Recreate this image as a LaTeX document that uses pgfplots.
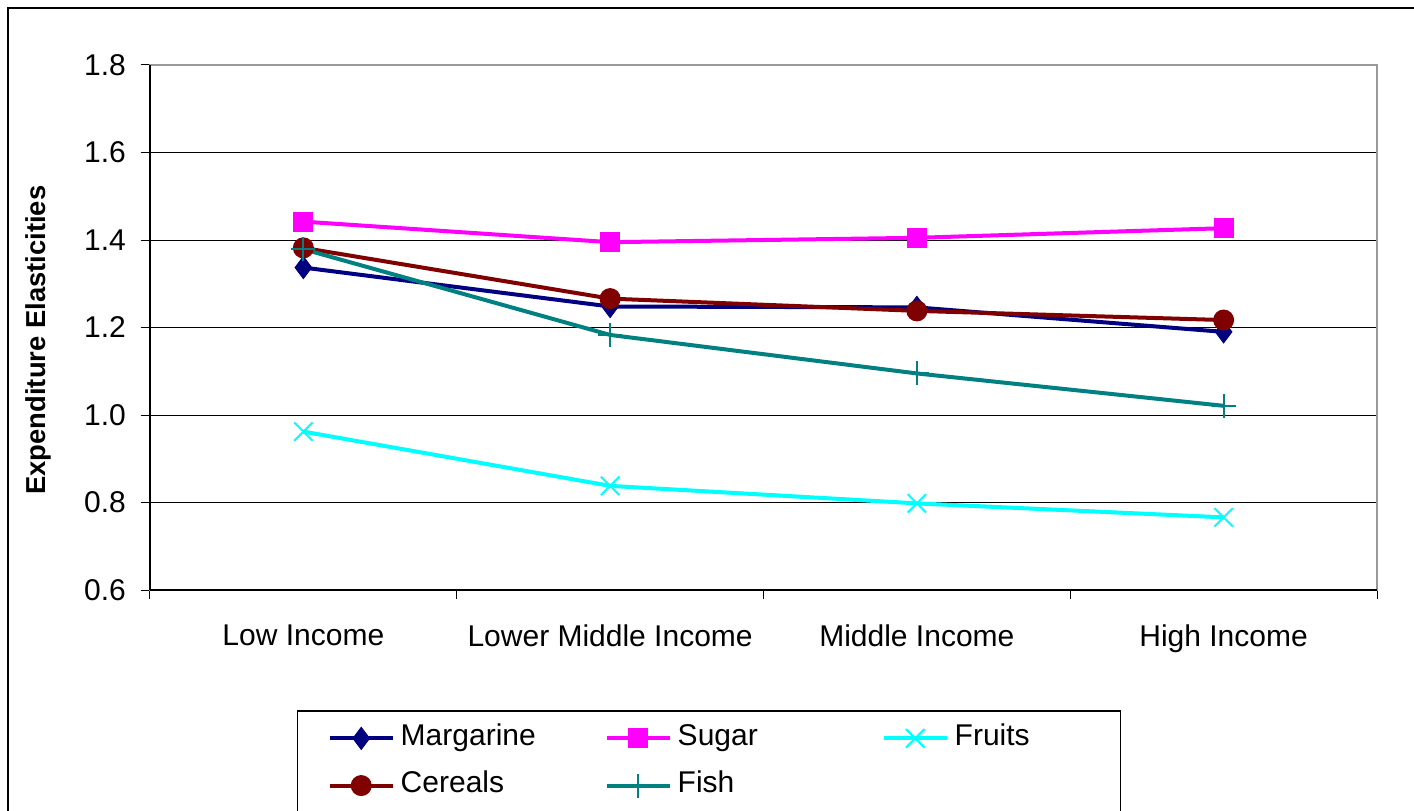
\documentclass[border=0pt]{standalone}
\usepackage{pgfplots}
\pgfplotsset{compat=1.18}
\usepackage{fontspec}
\setmainfont{Liberation Sans}
\definecolor{cMarg}{RGB}{0,0,128}
\definecolor{cSugar}{RGB}{255,0,255}
\definecolor{cFruit}{RGB}{0,255,255}
\definecolor{cCereal}{RGB}{128,0,0}
\definecolor{cFish}{RGB}{0,128,128}
\newcommand\lw[2]{\makebox[#1][l]{#2}}
\begin{document}
\begin{tikzpicture}
\useasboundingbox (0,0) rectangle (707pt,405pt);
\draw[black, line width=1pt] (3.75pt,-10pt) rectangle (720pt,401pt);
\begin{axis}[
  at={(75pt,110pt)}, anchor=south west,
  scale only axis, width=613.5pt, height=262.5pt,
  xmin=-0.5, xmax=3.5, ymin=0.6, ymax=1.8,
  xtick={0,1,2,3},
  xticklabels={Low Income, Lower Middle Income, Middle Income, High Income},
  minor xtick={-0.5,0.5,1.5,2.5,3.5},
  ytick={0.6,0.8,1.0,1.2,1.4,1.6,1.8},
  xtick pos=bottom, ytick pos=left,
  yticklabel style={/pgf/number format/.cd, fixed, fixed zerofill, precision=1, /tikz/.cd},
  /pgf/number format/assume math mode=true,
  tick align=outside,
  major tick length=4.5pt, minor tick length=4.5pt,
  major x tick style={draw=none},
  tick style={black, line width=0.5pt},
  ymajorgrids, grid style={black, line width=0.5pt},
  axis line style={gray!80, line width=0.6pt},
  tick label style={font=\fontsize{15}{18}\selectfont},
  xticklabel style={yshift=-9.5pt},
  yticklabel style={xshift=-4pt},
  ylabel={\bfseries Expenditure Elasticities},
  ylabel style={font=\fontsize{13.7}{16}\selectfont, at={(axis description cs:-0.0913,0.476)}, anchor=center},
  legend columns=3,
  legend style={at={(0.1198,-0.2286)}, anchor=north west, draw=black, line width=0.75pt,
    font=\fontsize{15}{18}\selectfont, inner xsep=15pt, inner ysep=2pt,
    nodes={inner xsep=2pt, inner ysep=4.3pt, text height=11pt, text depth=4pt, anchor=west},
    /tikz/every odd column/.append style={column sep=1pt},
    /tikz/every even column/.append style={column sep=0pt}},
  legend image code/.code={\draw[mark repeat=2,mark phase=2,#1] plot coordinates {(0pt,0pt) (15.75pt,0pt) (31.5pt,0pt)};},
  every axis plot/.append style={line width=2pt},
  after end axis/.code={
    \draw[black, line width=0.6pt] (rel axis cs:0,0) -- (rel axis cs:1,0);
    \draw[black, line width=0.6pt] (rel axis cs:0,0) -- (rel axis cs:0,1);
  },
]
\addplot[color=cMarg, mark=diamond*, mark size=5.5pt, mark options={solid, line width=0.5pt}] coordinates {(0,1.337) (1,1.248) (2,1.246) (3,1.190)};
\addlegendentry{\lw{100pt}{Margarine}}
\addplot[color=cSugar, mark=square*, mark size=4.7pt, mark options={solid, line width=0.5pt}] coordinates {(0,1.442) (1,1.395) (2,1.405) (3,1.427)};
\addlegendentry{\lw{100pt}{Sugar}}
\addplot[color=cFruit, mark=x, mark size=6.5pt, mark options={solid, line width=1pt}] coordinates {(0,0.962) (1,0.838) (2,0.798) (3,0.766)};
\addlegendentry{\lw{66pt}{Fruits}}
\addplot[color=cCereal, mark=*, mark size=5pt, mark options={solid, line width=0.5pt}] coordinates {(0,1.382) (1,1.266) (2,1.238) (3,1.217)};
\addlegendentry{\lw{100pt}{Cereals}}
\addplot[color=cFish, mark=+, mark size=6pt, mark options={solid, line width=1pt}] coordinates {(0,1.379) (1,1.183) (2,1.095) (3,1.021)};
\addlegendentry{\lw{100pt}{Fish}}
\end{axis}
\end{tikzpicture}
\end{document}
